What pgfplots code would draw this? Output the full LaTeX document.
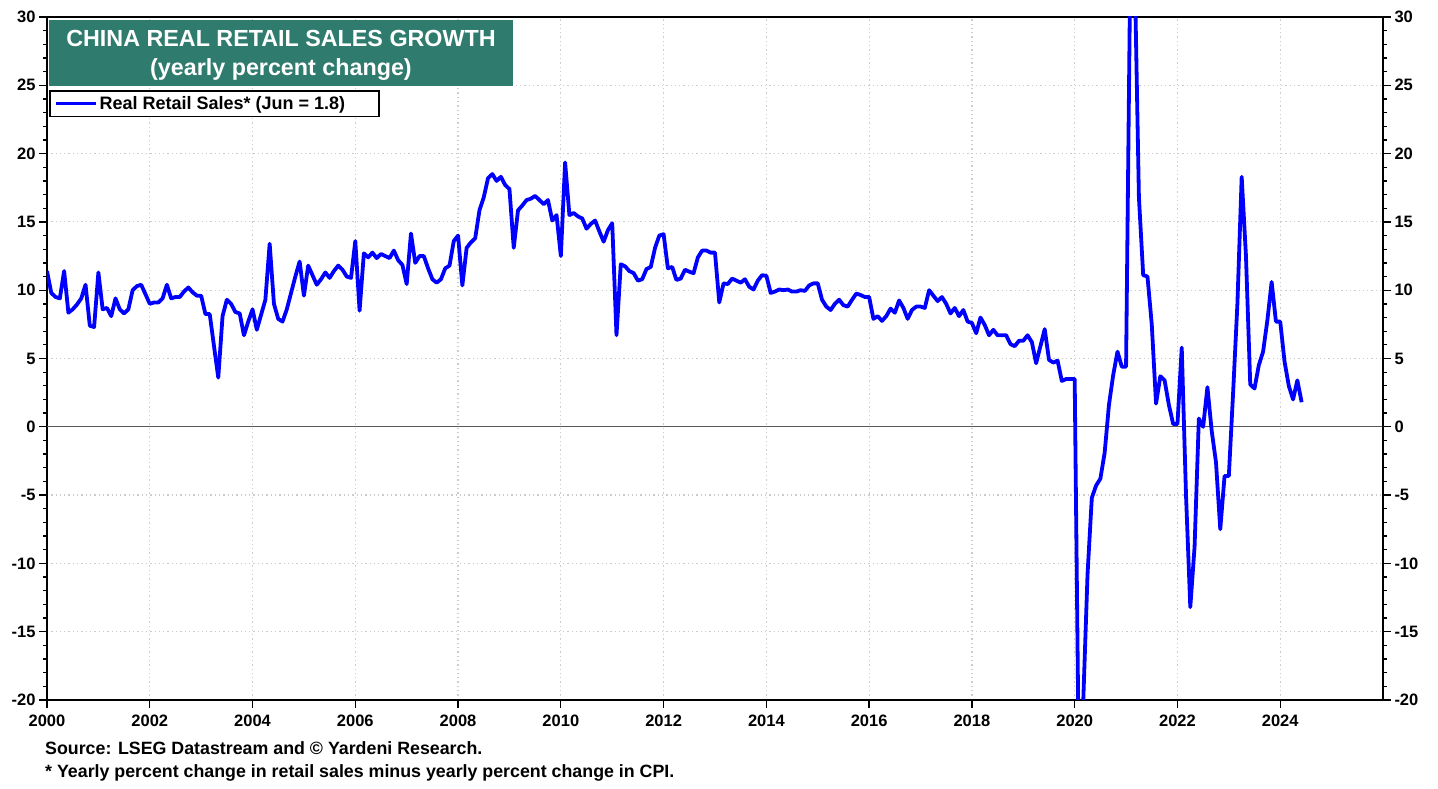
\documentclass[border=0pt]{standalone}
\usepackage{fontspec}
\setmainfont{Liberation Sans}
\usepackage{pgfplots}
\usepackage{pgfplotstable}
\pgfplotsset{compat=1.18}
\definecolor{titleteal}{RGB}{47,124,110}
\definecolor{lineblue}{RGB}{0,0,255}

% monthly values, Jan 2000 .. Jun 2024
\pgfplotstableread{
v
11.4
9.8
9.5
9.4
11.4
8.35
8.6
8.95
9.4
10.4
7.4
7.3
11.3
8.6
8.7
8.1
9.4
8.6
8.3
8.6
10.0
10.3
10.4
9.7
9.0
9.1
9.1
9.4
10.4
9.4
9.5
9.5
9.9
10.2
9.85
9.6
9.6
8.25
8.25
5.9
3.6
8.1
9.3
9.0
8.4
8.3
6.7
7.7
8.6
7.1
8.2
9.3
13.4
9.0
7.9
7.7
8.6
9.8
11.0
12.1
9.6
11.8
11.1
10.4
10.8
11.3
10.9
11.4
11.8
11.5
11.0
10.9
13.6
8.5
12.7
12.4
12.75
12.35
12.65
12.5
12.35
12.9
12.2
11.85
10.45
14.15
12.0
12.5
12.5
11.6
10.8
10.55
10.8
11.6
11.8
13.6
14.0
10.35
13.1
13.5
13.8
15.85
16.8
18.2
18.5
18.0
18.3
17.7
17.4
13.1
15.85
16.2
16.6
16.7
16.9
16.6
16.3
16.6
15.1
15.5
12.5
19.35
15.5
15.65
15.4
15.25
14.5
14.85
15.1
14.3
13.55
14.4
14.9
6.7
11.9
11.75
11.4
11.25
10.7
10.8
11.55
11.7
13.1
14.0
14.1
11.6
11.7
10.75
10.85
11.5
11.35
11.25
12.4
12.9
12.9
12.75
12.75
9.1
10.5
10.45
10.85
10.7
10.55
10.8
10.25
10.05
10.7
11.1
11.05
9.8
9.9
10.05
10.0
10.05
9.9
9.9
10.0
9.95
10.35
10.5
10.5
9.3
8.8
8.55
9.0
9.3
8.9
8.8
9.3
9.75
9.65
9.5
9.5
7.9
8.1
7.75
8.1
8.65
8.35
9.25
8.7
7.9
8.55
8.8
8.8
8.7
10.0
9.6
9.2
9.5
9.0
8.3
8.7
8.1
8.55
7.7
7.6
6.85
8.0
7.45
6.7
7.1
6.7
6.7
6.7
6.05
5.9
6.3
6.3
6.7
6.2
4.65
5.9
7.15
4.9
4.7
4.85
3.35
3.5
3.5
3.5
-25.8
-20.1
-10.8
-5.2
-4.3
-3.8
-1.9
1.6
3.8
5.5
4.4
4.4
34.0
33.8
16.8
11.1
11.0
7.5
1.7
3.7
3.4
1.6
0.2
0.2
5.8
-5.0
-13.2
-8.8
0.6
0.0
2.9
-0.3
-2.6
-7.5
-3.6
-3.6
2.5
9.0
18.3
12.5
3.1
2.8
4.5
5.5
7.8
10.6
7.7
7.7
4.8
3.0
2.0
3.4
1.8
}\retail

\pgfplotsset{
  common/.style={
    scale only axis, width=1336pt, height=683pt,
    at={(0,0)}, anchor=south west,
    xmin=2000, xmax=2026, ymin=-20, ymax=30,
    xtick={2000,2002,...,2024}, minor x tick num=7,
    ytick={-20,-15,...,30}, minor y tick num=4,
    tick align=outside,
    major tick length=8pt, minor tick length=4pt,
    every tick/.style={black, line width=1.3pt},
    /pgf/number format/assume math mode=true,
    /pgf/number format/1000 sep={},
    tick label style={font=\bfseries\fontsize{16.5}{16.5}\selectfont},
  }
}

\begin{document}
\begin{tikzpicture}
\begin{axis}[
  common,
  xtick pos=bottom, ytick pos=left,
  xticklabel style={yshift=-3pt},
  axis line style={line width=2.6pt},
  grid=major,
  grid style={gray!40, line width=1.2pt, dash pattern=on 1.3pt off 3pt},
  legend style={at={(0.0015,0.8931)}, anchor=north west, draw=black,
    line width=1.6pt, fill=white, inner xsep=4pt, inner ysep=3.5pt,
    font=\bfseries\fontsize{18}{19}\selectfont},
  legend image code/.code={\draw[#1, line width=3.8pt] (0pt,0pt) -- (40pt,0pt);},
]
\addplot[forget plot, black!65, line width=0.9pt] coordinates {(2000,0) (2026,0)};
\addplot[lineblue, line width=3.8pt, line join=round] table[x expr=2000+\coordindex/12, y=v] {\retail};
\addlegendentry{Real Retail Sales* (Jun = 1.8)\hspace*{28pt}}
\end{axis}
\begin{axis}[
  common,
  hide x axis,
  axis y line*=right, ytick pos=right, yticklabel pos=right,
  y axis line style={-, line width=2.6pt},
]
\addplot[draw=none, forget plot] coordinates {(2000,0)};
\end{axis}

\fill[titleteal] (2pt,614pt) rectangle (466pt,680pt);
\node[text=white, inner sep=0pt, font=\bfseries\fontsize{23.3}{32}\selectfont]
  at (234pt,662pt) {CHINA REAL RETAIL SALES GROWTH};
\node[text=white, inner sep=0pt, font=\bfseries\fontsize{23.3}{32}\selectfont]
  at (234pt,630pt) {(yearly percent change)};

\node[anchor=west, inner sep=0pt, font=\bfseries\fontsize{17.8}{19}\selectfont]
  at (-2pt,-48pt) {Source: LSEG Datastream and © Yardeni Research.};
\node[anchor=west, inner sep=0pt, font=\bfseries\fontsize{17.8}{19}\selectfont]
  at (-2pt,-73pt) {* Yearly percent change in retail sales minus yearly percent change in CPI.};

\path[use as bounding box] (-47pt,-89pt) rectangle (1391pt,700pt);
\end{tikzpicture}
\end{document}
